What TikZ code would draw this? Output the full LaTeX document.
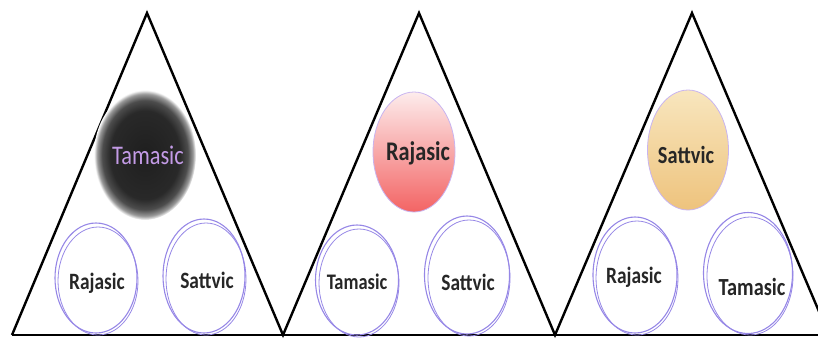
\documentclass[tikz,border=0pt]{standalone}
\usepackage{fontspec}
\setmainfont{Carlito}
\usetikzlibrary{shapes.geometric}
\definecolor{ringc}{RGB}{150,135,230}
\definecolor{paleringc}{RGB}{200,180,240}
\definecolor{tamtext}{RGB}{195,155,230}
\definecolor{rajtop}{RGB}{253,236,236}
\definecolor{rajbot}{RGB}{243,100,100}
\definecolor{sattop}{RGB}{248,230,190}
\definecolor{satbot}{RGB}{238,195,125}
\pgfdeclareradialshading{blobshade}{\pgfpoint{0bp}{0bp}}{color(0bp)=(black!88); color(17bp)=(black!84); color(21bp)=(black!70); color(23.5bp)=(black!40); color(25bp)=(white); color(50bp)=(white)}
\newcommand{\tall}[1]{\scalebox{0.97}[1.17]{#1}}
\tikzset{
  x=1pt, y=-1pt,
  tri/.style={draw=black, line width=2.4pt, line join=miter},
  ring/.style={ellipse, draw=ringc, line width=1.1pt, inner sep=0pt},
  ringb/.style={draw=ringc, line width=0.8pt},
  lbl/.style={font=\bfseries\fontsize{20}{24}\selectfont, text=black!85, inner sep=0pt},
}
\begin{document}
\begin{tikzpicture}
\useasboundingbox (0,0) rectangle (818,338);
\clip (0,0) rectangle (818,338);
% triangles
\coordinate (a1) at (12,335); \coordinate (p1) at (147,13); \coordinate (b1) at (283,335);
\coordinate (p2) at (419,13); \coordinate (b2) at (555,335);
\coordinate (p3) at (692,13); \coordinate (b3) at (829,335);
\draw[tri] (a1) -- (p1) -- (b1) -- (p2) -- (b2) -- (p3) -- (b3);
\draw[tri, line width=2.8pt] (a1) -- (b3);
% triangle 1
\node[ellipse, shading=blobshade, minimum width=102pt, minimum height=130pt, inner sep=0pt] (blob) at (145,155) {};
\node[lbl, font=\fontsize{23}{26}\selectfont, text=tamtext] (t1top) at (148,155) {\tall{Tamasic}};
\node[ring, minimum width=82pt, minimum height=110pt] (r1a) at (96,278) {};
\draw[ringb] (98,281) ellipse (40pt and 54pt);
\node[lbl] (t1a) at (97,283) {\tall{Rajasic}};
\node[ring, minimum width=82pt, minimum height=114pt] (r1b) at (204,276) {};
\draw[ringb] (206,279) ellipse (40pt and 56pt);
\node[lbl] (t1b) at (207,280) {\tall{Sattvic}};
% triangle 2
\node[ellipse, draw=paleringc, line width=0.8pt, top color=rajtop, bottom color=rajbot, minimum width=82pt, minimum height=120pt, inner sep=0pt] (r2top) at (414,152) {};
\node[lbl, font=\bfseries\fontsize{23}{28}\selectfont] (t2top) at (418,153) {\tall{Rajasic}};
\node[ring, minimum width=83pt, minimum height=110pt] (r2a) at (357,280) {};
\draw[ringb] (359,283) ellipse (40pt and 54pt);
\node[lbl, font=\bfseries\fontsize{19}{22}\selectfont] (t2a) at (357,282) {\tall{Tamasic}};
\node[ring, minimum width=85pt, minimum height=118pt] (r2b) at (467,275) {};
\draw[ringb] (469,278) ellipse (41pt and 58pt);
\node[lbl] (t2b) at (468,282) {\tall{Sattvic}};
% triangle 3
\node[ellipse, draw=paleringc, line width=0.8pt, top color=sattop, bottom color=satbot, minimum width=81pt, minimum height=120pt, inner sep=0pt] (r3top) at (688,150) {};
\node[lbl, font=\bfseries\fontsize{21}{24}\selectfont] (t3top) at (686,155) {\tall{Sattvic}};
\node[ring, minimum width=84pt, minimum height=116pt] (r3a) at (635,275) {};
\draw[ringb] (637,278) ellipse (41pt and 57pt);
\node[lbl] (t3a) at (634,277) {\tall{Rajasic}};
\node[ring, minimum width=89pt, minimum height=121pt] (r3b) at (748,273) {};
\draw[ringb] (750,276) ellipse (43pt and 59pt);
\node[lbl, font=\bfseries\fontsize{21}{24}\selectfont] (t3b) at (752,287) {\tall{Tamasic}};
\end{tikzpicture}
\end{document}
